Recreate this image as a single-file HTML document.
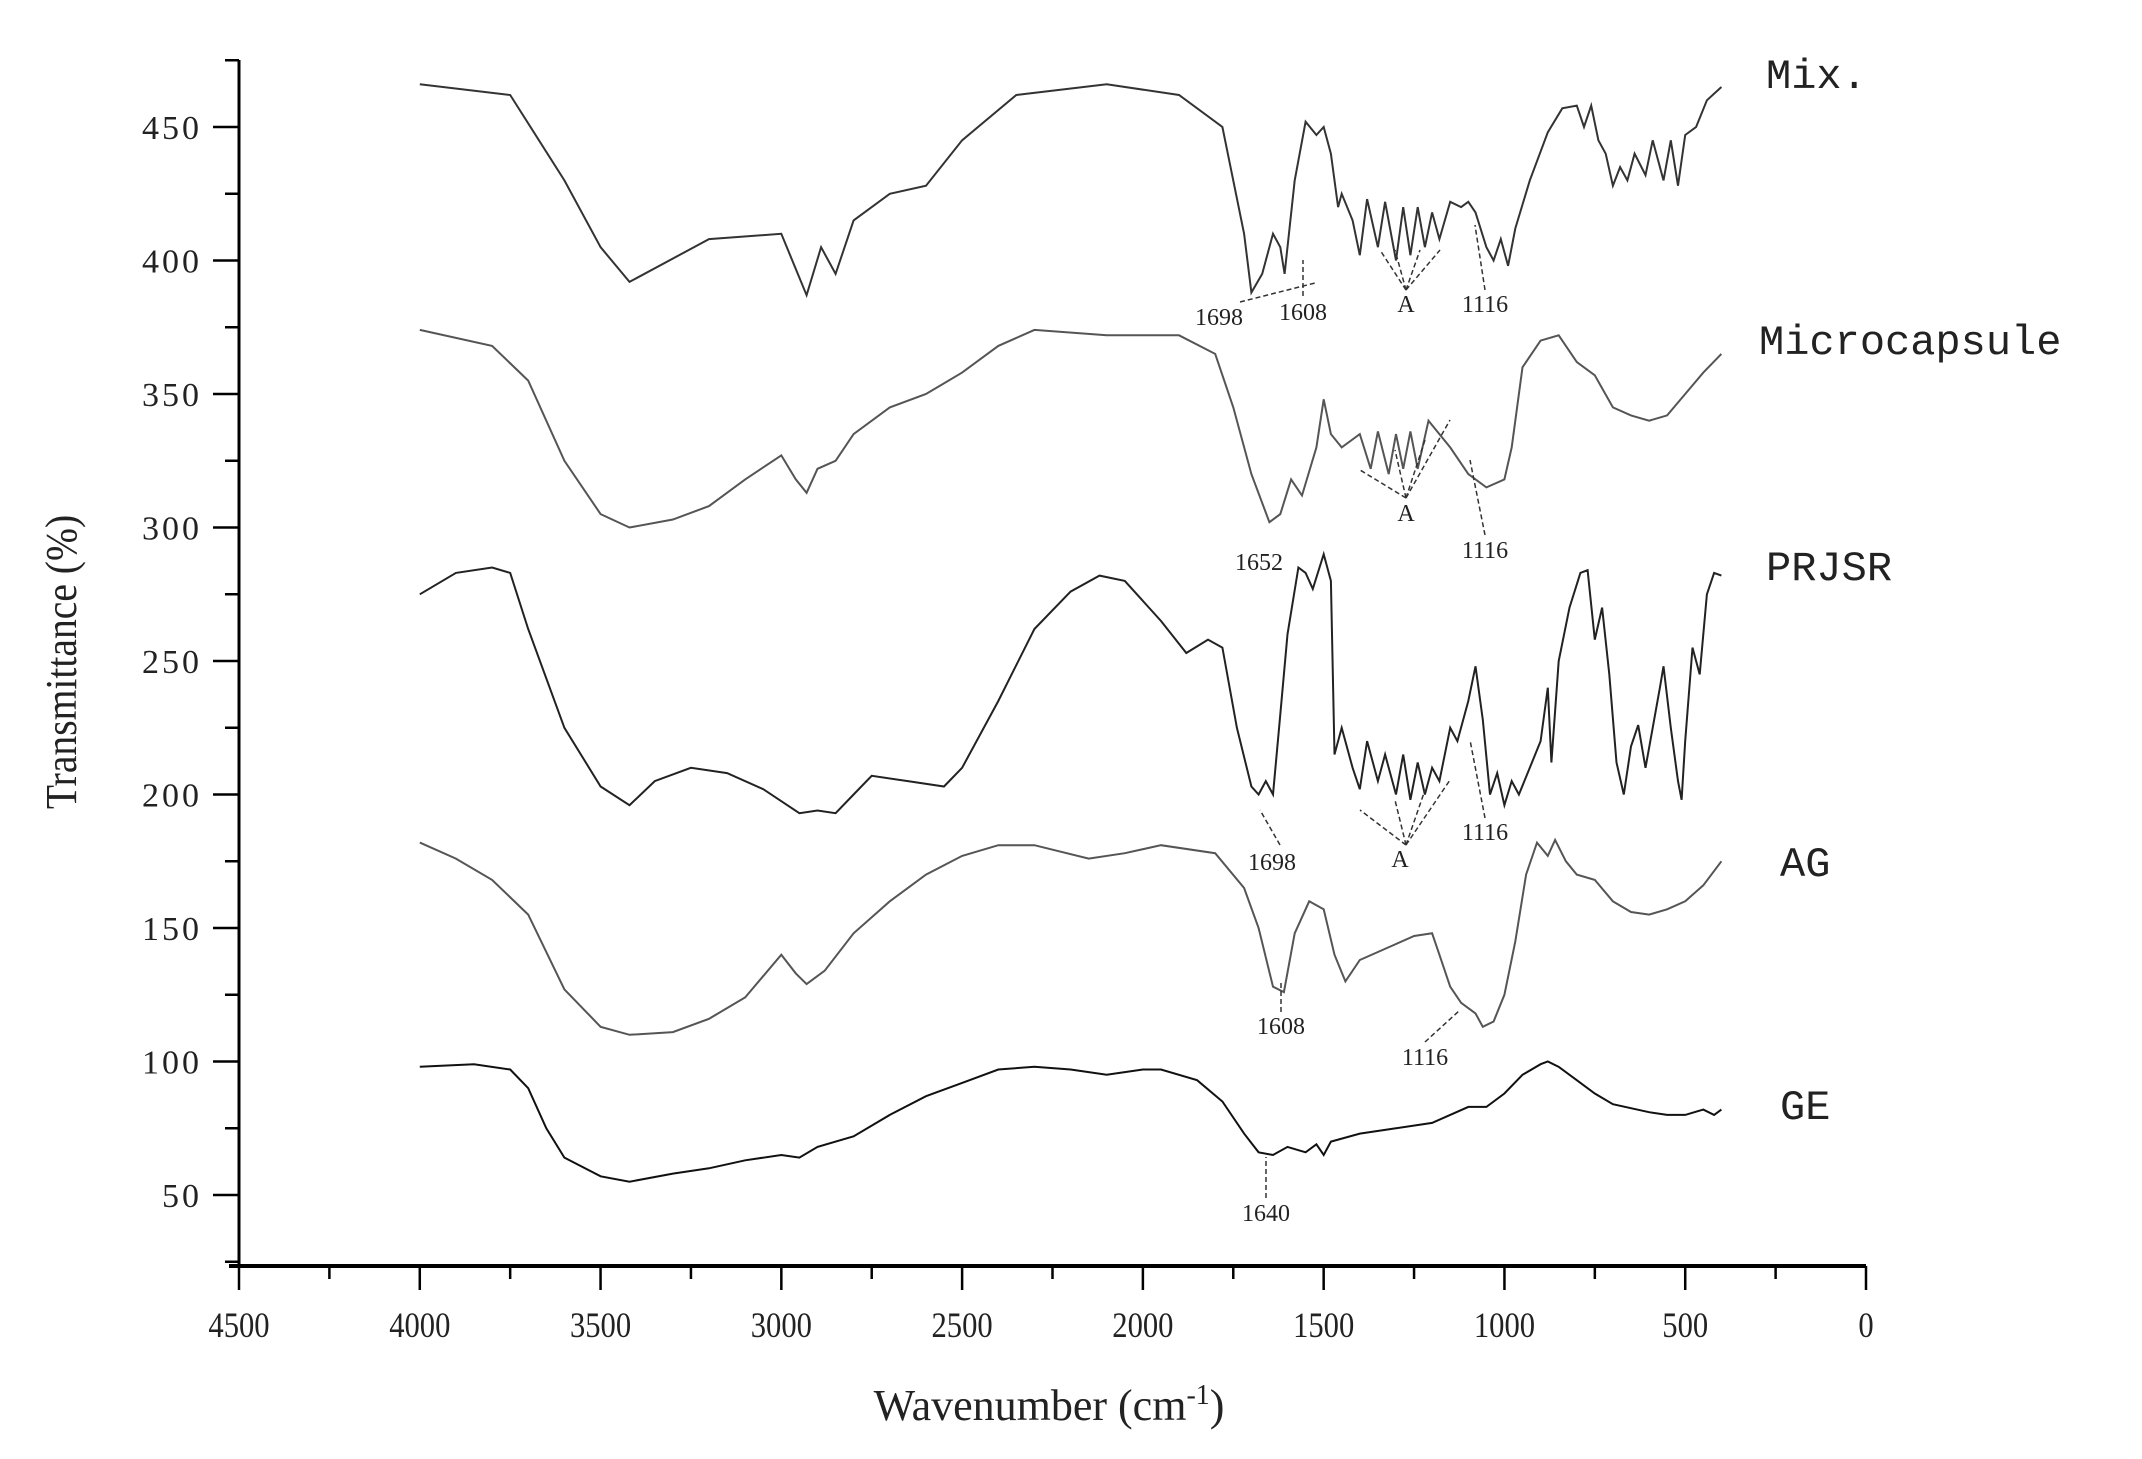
<!DOCTYPE html>
<html><head><meta charset="utf-8"><style>
html,body{margin:0;padding:0;background:#fff;}
svg{display:block;font-family:"Liberation Serif",serif;}
</style></head><body>
<svg id="chart" width="2142" height="1459" viewBox="0 0 2142 1459" xmlns="http://www.w3.org/2000/svg">
<g id="axes"></g>
<g id="series"></g>
<g id="annos"></g>
</svg>
<script>
const xTicks = [4500,4000,3500,3000,2500,2000,1500,1000,500,0];
const yTicks = [50,100,150,200,250,300,350,400,450];
const seriesNames = ["Mix.","Microcapsule","PRJSR","AG","GE"];
const mixW = [4000,3750,3600,3500,3420,3200,3000,2930,2890,2850,2800,2700,2600,2500,2350,2100,1900,1780,1720,1700,1670,1640,1620,1608,1580,1550,1520,1500,1480,1460,1450,1420,1400,1380,1350,1330,1300,1280,1260,1240,1220,1200,1180,1150,1120,1100,1080,1050,1030,1010,990,970,930,880,840,800,780,760,740,720,700,680,660,640,610,590,560,540,520,500,470,440,400];
const mixT = [466,462,430,405,392,408,410,387,405,395,415,425,428,445,462,466,462,450,410,388,395,410,405,395,430,452,447,450,440,420,425,415,402,423,405,422,400,420,402,420,405,418,408,422,420,422,418,405,400,408,398,412,430,448,457,458,450,458,445,440,428,435,430,440,432,445,430,445,428,447,450,460,465];
const micW = [4000,3800,3700,3600,3500,3420,3300,3200,3100,3000,2960,2930,2900,2850,2800,2700,2600,2500,2400,2300,2100,1900,1800,1750,1700,1650,1620,1590,1560,1520,1500,1480,1450,1400,1370,1350,1320,1300,1280,1260,1240,1210,1180,1150,1100,1050,1000,980,950,900,850,800,750,700,650,600,550,500,450,400];
const micT = [374,368,355,325,305,300,303,308,318,327,318,313,322,325,335,345,350,358,368,374,372,372,365,345,320,302,305,318,312,330,348,335,330,335,322,336,320,335,322,336,322,340,335,330,320,315,318,330,360,370,372,362,357,345,342,340,342,350,358,365];
const prjW = [4000,3900,3800,3750,3700,3600,3500,3420,3350,3250,3150,3050,2950,2900,2850,2800,2750,2650,2550,2500,2400,2300,2200,2120,2050,1950,1880,1820,1780,1740,1700,1680,1660,1640,1620,1600,1570,1550,1530,1500,1480,1470,1450,1420,1400,1380,1350,1330,1300,1280,1260,1240,1220,1200,1180,1150,1130,1100,1080,1060,1040,1020,1000,980,960,930,900,880,870,850,820,790,770,750,730,710,690,670,650,630,610,590,570,560,540,520,510,500,480,460,440,420,400];
const prjT = [275,283,285,283,262,225,203,196,205,210,208,202,193,194,193,200,207,205,203,210,235,262,276,282,280,265,253,258,255,225,203,200,205,200,230,260,285,283,277,290,280,215,225,210,202,220,205,215,200,215,198,212,200,210,205,225,220,235,248,228,200,208,196,205,200,210,220,240,212,250,270,283,284,258,270,245,212,200,218,226,210,225,240,248,225,205,198,220,255,245,275,283,282];
const agW = [4000,3900,3800,3700,3600,3500,3420,3300,3200,3100,3000,2960,2930,2880,2800,2700,2600,2500,2400,2300,2150,2050,1950,1800,1720,1680,1640,1610,1580,1540,1500,1470,1440,1400,1300,1250,1200,1180,1150,1120,1080,1060,1030,1000,970,940,910,880,860,830,800,750,700,650,600,550,500,450,400];
const agT = [182,176,168,155,127,113,110,111,116,124,140,133,129,134,148,160,170,177,181,181,176,178,181,178,165,150,128,126,148,160,157,140,130,138,144,147,148,140,128,122,118,113,115,125,145,170,182,177,183,175,170,168,160,156,155,157,160,166,175];
const geW = [4000,3850,3750,3700,3650,3600,3500,3420,3300,3200,3100,3000,2950,2900,2800,2700,2600,2500,2400,2300,2200,2100,2000,1950,1850,1780,1720,1680,1640,1600,1550,1520,1500,1480,1400,1300,1200,1100,1050,1000,950,900,880,850,800,750,700,600,550,500,450,420,400];
const geT = [98,99,97,90,75,64,57,55,58,60,63,65,64,68,72,80,87,92,97,98,97,95,97,97,93,85,73,66,65,68,66,69,65,70,73,75,77,83,83,88,95,99,100,98,93,88,84,81,80,80,82,80,82];
const seriesW = [mixW,micW,prjW,agW,geW];
const seriesT = [mixT,micT,prjT,agT,geT];

const NS="http://www.w3.org/2000/svg";
const X0=239, X1=1866, Y450=127, Y50=1195, YB=1266, YTOP=60;
function sx(w){return X0+(4500-w)*(X1-X0)/4500;}
function sy(v){return Y450+(450-v)*(Y50-Y450)/400;}
function mk(tag,attrs,parent){const e=document.createElementNS(NS,tag);for(const k in attrs)e.setAttribute(k,attrs[k]);parent.appendChild(e);return e;}
const axes=document.getElementById('axes'), ser=document.getElementById('series'), an=document.getElementById('annos');

let e=mk('line',{x1:X0,y1:YTOP,x2:X0,y2:YB,stroke:'#000','stroke-width':3},axes);


e=mk('line',{x1:X0-10,y1:YB,x2:X1,y2:YB,stroke:'#000','stroke-width':4},axes);


for(let v=25;v<=475;v+=25){const y=sy(v);if(y<YTOP||y>YB)continue;const maj=v%50===0;
 e=mk('line',{x1:X0-(maj?26:14),y1:y,x2:X0,y2:y,stroke:'#000','stroke-width':2.5},axes);
 
 }
yTicks.forEach(v=>{e=mk('text',{x:202,y:sy(v)+12,'text-anchor':'end','font-size':34,'letter-spacing':3,fill:'#222'},axes);e.textContent=v;
 
 });
for(let w=0;w<=4500;w+=250){const x=sx(w);const maj=w%500===0;
 e=mk('line',{x1:x,y1:YB,x2:x,y2:YB+(maj?24:13),stroke:'#000','stroke-width':2.5},axes);
 
 }
xTicks.forEach(w=>{e=mk('text',{x:sx(w),y:1337,'text-anchor':'middle','font-size':36,fill:'#222',transform:`translate(${sx(w)},0) scale(0.85,1) translate(${-sx(w)},0)`},axes);e.textContent=w;
 
 });
e=mk('text',{x:0,y:0,'text-anchor':'middle','font-size':44,fill:'#222',transform:'translate(76,662) rotate(-90) scale(0.9,1)'},axes);e.textContent='Transmittance (%)';


e=mk('text',{x:1049,y:1420,'text-anchor':'middle','font-size':44,fill:'#222'},axes);e.innerHTML='Wavenumber (cm<tspan dy="-16" font-size="28">-1</tspan><tspan dy="16">)</tspan>';



const labelPos=[[1766,88],[1759,354],[1766,580],[1780,876],[1780,1119]];
const colors=['#333','#555','#222','#555','#111'];
seriesW.forEach((ws,i)=>{const d=ws.map((w,j)=>(j?'L':'M')+sx(w).toFixed(1)+','+sy(seriesT[i][j]).toFixed(1)).join(' ');
 e=mk('path',{d:d,fill:'none',stroke:colors[i],'stroke-width':2},ser);
 
 
 e=mk('text',{x:labelPos[i][0],y:labelPos[i][1],'font-size':42,fill:'#222','font-family':'Liberation Mono, monospace'},ser);e.textContent=seriesNames[i];
 
 });

const annText=[["1698",1219,325],["1608",1303,320],["A",1406,312],["1116",1485,312],["A",1406,521],["1116",1485,558],["1652",1259,570],["1698",1272,870],["A",1400,867],["1116",1485,840],["1608",1281,1034],["1116",1425,1065],["1640",1266,1221]];
annText.forEach(a=>{e=mk('text',{x:a[1],y:a[2],'text-anchor':'middle','font-size':24,fill:'#222'},an);e.textContent=a[0];
 
 });
const leaders=[[1240,302,1315,283],[1303,296,1303,260],[1406,290,1380,250],[1406,290,1395,250],[1406,290,1420,250],[1406,290,1440,250],[1485,290,1475,225],
 [1406,498,1360,470],[1406,498,1395,450],[1406,498,1425,440],[1406,498,1450,420],[1485,535,1470,460],
 [1406,845,1360,810],[1406,845,1395,800],[1406,845,1425,790],[1406,845,1450,780],[1485,818,1470,740],[1280,845,1260,810],
 [1281,1012,1281,980],[1425,1042,1460,1010],[1266,1198,1266,1157]];
leaders.forEach(l=>{e=mk('line',{x1:l[0],y1:l[1],x2:l[2],y2:l[3],stroke:'#333','stroke-width':1.5,'stroke-dasharray':'5,3'},an);
 
 });
</script>
</body></html>
